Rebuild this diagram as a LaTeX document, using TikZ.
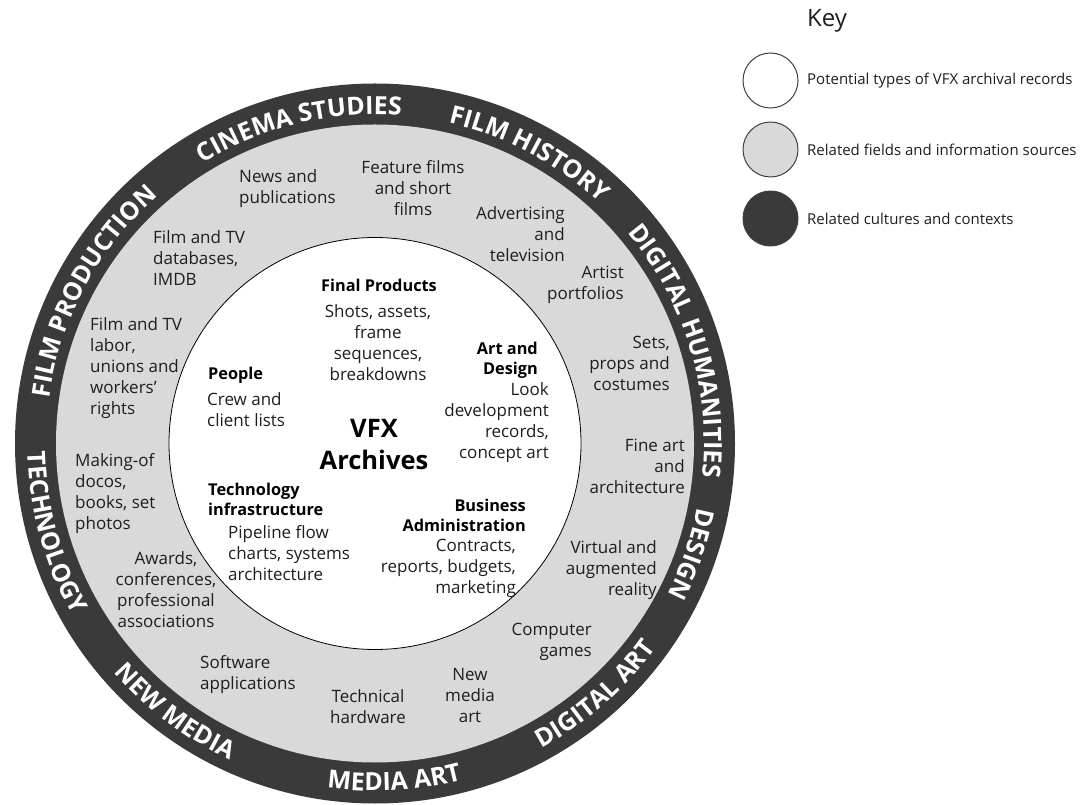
\documentclass[tikz,border=0pt]{standalone}
\usepackage{fontspec}
\setmainfont{Open Sans}
\usetikzlibrary{decorations.text}
\definecolor{ringdark}{RGB}{58,58,58}
\definecolor{ringgrey}{RGB}{217,217,217}
\definecolor{inktext}{RGB}{30,30,30}
\newcommand{\bandfont}{\bfseries\fontsize{25}{25}\selectfont}
\begin{document}
\begin{tikzpicture}[x=1pt,y=1pt,
  txt/.style={font=\fontsize{17}{21}\selectfont, text=inktext, inner sep=0pt},
  head/.style={font=\bfseries\fontsize{16.3}{20}\selectfont, text=black, inner sep=0pt},
  keylbl/.style={font=\fontsize{15}{18}\selectfont, text=inktext, inner sep=0pt, anchor=west},
  keydisc/.style={circle, minimum size=55pt, inner sep=0pt, draw=black!75, line width=1pt},
  bandtext/.style={decorate, decoration={text along path, text align=center, text color=white, text={|\bandfont|#1}}},
]
\useasboundingbox (0,0) rectangle (1082,804);
\coordinate (O) at (375,360.5);
% rings
\fill[ringdark] (O) circle[radius=360pt];
\fill[ringgrey] (O) circle[radius=319pt];
\filldraw[fill=white, draw=black, line width=0.8pt] (O) circle[radius=206pt];

% curved band texts
\begin{scope}[shift={(375,360.5)}]
  % clockwise (tops outward)
  \path[bandtext={FILM PRODUCTION}] (211.7:329pt) arc[start angle=211.7, end angle=91.7, radius=329pt];
  \path[bandtext={CINEMA STUDIES}] (163.5:329pt) arc[start angle=163.5, end angle=43.5, radius=329pt];
  \path[bandtext={FILM HISTORY}] (122:329pt) arc[start angle=122, end angle=2, radius=329pt];
  \path[bandtext={DIGITAL HUMANITIES}] (77:329pt) arc[start angle=77, end angle=-43, radius=329pt];
  \path[bandtext={DESIGN}] (40.7:329pt) arc[start angle=40.7, end angle=-79.3, radius=329pt];
  % counterclockwise (tops inward)
  \path[bandtext={TECHNOLOGY}] (135.5:347.5pt) arc[start angle=135.5, end angle=255.5, radius=347.5pt];
  \path[bandtext={NEW MEDIA}] (173.3:347.5pt) arc[start angle=173.3, end angle=293.3, radius=347.5pt];
  \path[bandtext={MEDIA ART}] (213.3:347.5pt) arc[start angle=213.3, end angle=333.3, radius=347.5pt];
  \path[bandtext={DIGITAL ART}] (251.3:347.5pt) arc[start angle=251.3, end angle=371.3, radius=347.5pt];
\end{scope}

% related fields (grey ring)
\node[txt, anchor=west, align=left] (news) at (239,615) {News and\\publications};
\node[txt, align=center] (feature) at (413,616) {Feature films\\and short\\films};
\node[txt, anchor=east, align=right] (advert) at (565,570) {Advertising\\and\\television};
\node[txt, anchor=east, align=right] (artist) at (624,519) {Artist\\portfolios};
\node[txt, anchor=east, align=right] (sets) at (670,441) {Sets,\\props and\\costumes};
\node[txt, anchor=east, align=right] (fineart) at (685,338) {Fine art\\and\\architecture};
\node[txt, anchor=east, align=right] (virtual) at (657,234) {Virtual and\\augmented\\reality};
\node[txt, anchor=east, align=right] (games) at (592,162) {Computer\\games};
\node[txt, align=center] (newmedia) at (470,108) {New\\media\\art};
\node[txt, align=center] (hardware) at (368,97) {Technical\\hardware};
\node[txt, anchor=west, align=left] (software) at (200,129) {Software\\applications};
\node[txt, align=center] (awards) at (166,214) {Awards,\\conferences,\\professional\\associations};
\node[txt, anchor=west, align=left] (making) at (75,310) {Making-of\\docos,\\books, set\\photos};
\node[txt, anchor=west, align=left] (labor) at (90,436) {Film and TV\\labor,\\unions and\\workers’\\rights};
\node[txt, anchor=west, align=left] (databases) at (153,546) {Film and TV\\databases,\\IMDB};

% archival records (white disc)
\node[head, align=center] (finalhead) at (379,519) {Final Products};
\node[txt, align=center] (finaltext) at (378,461) {Shots, assets,\\frame\\sequences,\\breakdowns};
\node[head, anchor=east, align=right] (arthead) at (538,444) {Art and\\Design};
\node[txt, anchor=east, align=right] (arttext) at (549,381) {Look\\development\\records,\\concept art};
\node[head, anchor=west, align=left] (peoplehead) at (208,429) {People};
\node[txt, anchor=west, align=left] (peopletext) at (207,394) {Crew and\\client lists};
\node[font=\bfseries\fontsize{25.5}{32}\selectfont, text=black, inner sep=0pt, align=center] (vfx) at (374,359) {VFX\\Archives};
\node[head, anchor=west, align=left] (techhead) at (208,305) {Technology\\infrastructure};
\node[txt, anchor=west, align=left] (techtext) at (228,251) {Pipeline flow\\charts, systems\\architecture};
\node[head, anchor=east, align=right] (bizhead) at (526,289) {Business\\Administration};
\node[txt, anchor=east, align=right] (biztext) at (516,236) {Contracts,\\reports, budgets,\\marketing};

% key
\node[font=\fontsize{24}{28}\selectfont, text=inktext, inner sep=0pt, anchor=base west] (keytitle) at (807,777) {Key};
\node[keydisc, fill=white] (k1) at (770.5,723.5) {};
\node[keydisc, fill=ringgrey] (k2) at (770.5,654.5) {};
\node[keydisc, fill=ringdark] (k3) at (770.5,585.5) {};
\node[keylbl] (k1t) at (807,723.5) {Potential types of VFX archival records};
\node[keylbl] (k2t) at (807,654.5) {Related fields and information sources};
\node[keylbl] (k3t) at (807,585.5) {Related cultures and contexts};
\end{tikzpicture}
\end{document}
